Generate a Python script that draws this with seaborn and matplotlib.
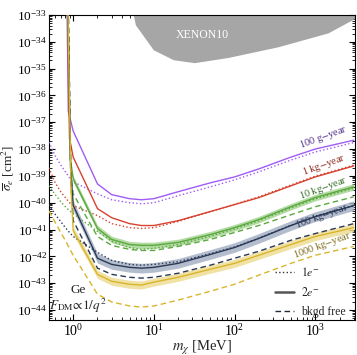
import numpy as np
import matplotlib
matplotlib.use("Agg")
import matplotlib.pyplot as plt
from matplotlib.lines import Line2D
from matplotlib.ticker import LogLocator, NullFormatter, FixedLocator
import seaborn as sns

sns.set_theme(style="ticks")
plt.rcParams['font.family'] = ['Liberation Serif', 'DejaVu Serif']
plt.rcParams['mathtext.fontset'] = 'stix'

# ---------------- data (log10 of cross section in cm^2) ----------------
m_low = [0.5, 0.6, 0.7, 0.8, 0.9, 1, 2, 3, 5, 7, 10, 20, 50, 100, 200, 500, 1000, 3000]

purple_2e_m = [0.84, 0.87, 1, 2, 3, 5, 7, 10, 20, 50, 100, 200, 500, 1000, 3000]
purple_2e = [-32.8, -36.6, -37.33, -39.30, -39.70, -39.85, -39.89, -39.85, -39.59, -39.26, -39.04, -38.74, -38.30, -38.00, -37.67]
purple_1e = [-37.74, -38.26, -38.59, -38.85, -39.07, -39.22, -39.67, -39.89, -40.00, -40.04, -40.00, -39.74, -39.41, -39.15, -38.85, -38.41, -38.11, -37.76]

red_2e_m = [0.85, 0.9, 1, 2, 3, 5, 7, 10, 20, 50, 100, 200, 500, 1000, 3000]
red_2e = [-32.8, -37.6, -38.30, -40.22, -40.56, -40.78, -40.85, -40.85, -40.67, -40.33, -40.07, -39.81, -39.37, -39.04, -38.63]
red_1e = [-38.70, -39.26, -39.59, -39.81, -40.00, -40.11, -40.48, -40.78, -40.93, -40.96, -40.93, -40.70, -40.33, -40.06, -39.78, -39.34, -39.01, -38.60]

green_2e_m = [0.86, 0.92, 1, 2, 3, 5, 7, 10, 20, 50, 100, 200, 500, 1000, 3000]
green_2e = [-32.8, -38.4, -39.11, -40.96, -41.37, -41.56, -41.59, -41.59, -41.48, -41.19, -40.93, -40.63, -40.15, -39.81, -39.41]
green_1e = [-39.37, -39.70, -39.96, -40.15, -40.30, -40.41, -41.07, -41.44, -41.67, -41.74, -41.70, -41.56, -41.25, -40.98, -40.68, -40.20, -39.86, -39.46]
green_bf_m = [0.87, 0.93, 1, 2, 3, 5, 7, 10, 20, 50, 100, 200, 500, 1000, 3000]
green_bf = [-32.8, -38.8, -39.67, -41.26, -41.59, -41.74, -41.78, -41.78, -41.63, -41.37, -41.11, -40.85, -40.45, -40.15, -39.78]

navy_2e_m = [0.86, 0.93, 1, 2, 3, 5, 7, 10, 20, 50, 100, 200, 500, 1000, 3000]
navy_2e = [-32.8, -38.8, -40.10, -42.07, -42.30, -42.41, -42.44, -42.41, -42.26, -41.93, -41.67, -41.33, -40.85, -40.52, -40.11]
navy_1e = [-40.07, -40.44, -40.70, -40.93, -41.11, -41.26, -41.85, -42.15, -42.30, -42.33, -42.30, -42.20, -41.90, -41.65, -41.32, -40.84, -40.50, -40.10]
navy_bf_m = [0.87, 0.94, 1, 2, 3, 5, 7, 10, 20, 50, 100, 200, 500, 1000, 3000]
navy_bf = [-32.8, -39.3, -40.67, -42.44, -42.67, -42.78, -42.81, -42.78, -42.63, -42.33, -42.07, -41.81, -41.40, -41.15, -40.78]

gold_2e_m = [0.86, 0.94, 1, 2, 3, 5, 7, 10, 20, 50, 100, 200, 500, 1000, 3000]
gold_2e = [-32.8, -39.5, -41.04, -42.67, -42.93, -43.04, -43.07, -42.96, -42.78, -42.48, -42.26, -41.96, -41.56, -41.26, -40.93]
gold_bf = [-40.30, -40.74, -41.11, -41.41, -41.70, -41.96, -43.41, -43.70, -43.85, -43.89, -43.85, -43.63, -43.30, -43.04, -42.70, -42.26, -41.96, -41.63]

band_half = {"green": 0.12, "navy": 0.18, "gold": 0.15}

xenon_m = [5.4, 5.56, 5.9, 9.85, 17.4, 31.8, 81.8, 343, 1440, 3180, 3600]
xenon = [-32.8, -33.0, -33.37, -34.30, -34.67, -34.78, -34.59, -34.19, -33.67, -33.11, -32.9]

y_decades = [-44, -43, -42, -41, -40, -39, -38, -37, -36, -35, -34, -33]
exposure_labels = ["100 g$-$year", "1 kg$-$year", "10 kg$-$year", "100 kg$-$year", "1000 kg$-$year"]
label_m = [1250, 1280, 1250, 1200, 1230]
label_logsig = [-37.55, -38.60, -39.46, -40.50, -41.58]
legend_labels = ["$1e^{-}$", "$2e^{-}$", "bkgd free"]

# ---------------- colours ----------------
c_purple, c_red, c_green, c_navy, c_gold = "#a05cf5", "#d8412f", "#5aa83e", "#2a3856", "#d9b52a"
band_col = {"green": "#a8d596", "navy": "#a7b2c5", "gold": "#eedc95"}
lab_col = ["#4d2a85", "#8a2418", "#2f6b22", "#2a3856", "#7d6a1a"]

fig = plt.figure(figsize=(3.57, 3.55), dpi=100)
ax = fig.add_axes([0.137, 0.099, 0.857, 0.859])

def L(v):
    return 10 ** np.asarray(v, dtype=float)

# XENON10 region
ax.fill_between(xenon_m, L(xenon), 1e-30, color="#a6a6a6", lw=0, zorder=1)

# bands
for name, mm, vals in [("green", green_2e_m, green_2e), ("navy", navy_2e_m, navy_2e), ("gold", gold_2e_m, gold_2e)]:
    v = np.asarray(vals)
    h = band_half[name]
    ax.fill_between(mm, L(v - h), L(v + h), color=band_col[name], lw=0, alpha=0.85, zorder=2)

def line(mm, vals, col, ls, lw=1.0, z=3):
    sns.lineplot(x=mm, y=L(vals), ax=ax, color=col, linestyle=ls, lw=lw, estimator=None, sort=False, zorder=z)

line(purple_2e_m, purple_2e, c_purple, "-")
line(m_low, purple_1e, c_purple, ":")
line(red_2e_m, red_2e, c_red, "-")
line(m_low, red_1e, c_red, ":")
line(green_2e_m, green_2e, c_green, "-")
line(m_low, green_1e, c_green, ":")
line(green_bf_m, green_bf, c_green, (0, (4, 2.5)))
line(navy_2e_m, navy_2e, c_navy, "-")
line(m_low, navy_1e, c_navy, ":")
line(navy_bf_m, navy_bf, c_navy, (0, (4, 2.5)))
line(gold_2e_m, gold_2e, c_gold, "-")
line(m_low, gold_bf, c_gold, (0, (4, 2.5)))

ax.set_xscale("log")
ax.set_yscale("log")
ax.set_xlim(0.5, 3100)
ax.set_ylim(4.3e-45, 1e-33)

ax.yaxis.set_major_locator(FixedLocator(L(y_decades)))
ax.yaxis.set_minor_locator(LogLocator(base=10, subs=np.arange(2, 10), numticks=30))
ax.yaxis.set_minor_formatter(NullFormatter())
ax.xaxis.set_major_locator(LogLocator(base=10, numticks=30))
ax.xaxis.set_minor_locator(LogLocator(base=10, subs=np.arange(2, 10), numticks=30))
ax.xaxis.set_minor_formatter(NullFormatter())
ax.tick_params(which="both", direction="in", top=True, right=True, labelsize=10, colors="black", pad=2)
ax.tick_params(axis="y", which="both", labelsize=9.5, pad=1.5)
ax.tick_params(which="major", length=4, width=0.8)
ax.tick_params(which="minor", length=2, width=0.6)
for s in ax.spines.values():
    s.set_color("black")
    s.set_linewidth(0.8)

ax.set_xlabel("$m_{\\chi}$ [MeV]", fontsize=10.5, labelpad=0)
ax.set_ylabel("$\\overline{\\sigma}_e$ [cm$^2$]", fontsize=9.5)
ax.yaxis.set_label_coords(-0.107, 0.5)

ax.text(40, 1.8e-34, "XENON10", color="white", fontsize=8.5, ha="center", va="center", zorder=4)
ax.text(0.095, 0.098, "Ge", transform=ax.transAxes, fontsize=9.5, ha="center", va="center")
ax.text(0.095, 0.045, "$F_{\\rm DM}\\!\\propto\\!1/q^2$", transform=ax.transAxes, fontsize=9.5, ha="center", va="center")

for txt, xx, yy, col in zip(exposure_labels, label_m, label_logsig, lab_col):
    ax.text(xx, 10 ** yy, txt, color=col, fontsize=7.5, rotation=20, ha="center", va="center", zorder=5)

handles = [Line2D([], [], color="#333333", ls=":", lw=1.0),
           Line2D([], [], color="#555555", ls="-", lw=1.8),
           Line2D([], [], color="#222a3a", ls=(0, (4, 2.5)), lw=1.0)]
ax.legend(handles, legend_labels, loc="lower right", bbox_to_anchor=(0.99, -0.015), frameon=False, fontsize=8.5,
          handlelength=1.6, handletextpad=0.6, labelspacing=0.6, borderaxespad=0.15)

fig.savefig("out.png", dpi=100)
